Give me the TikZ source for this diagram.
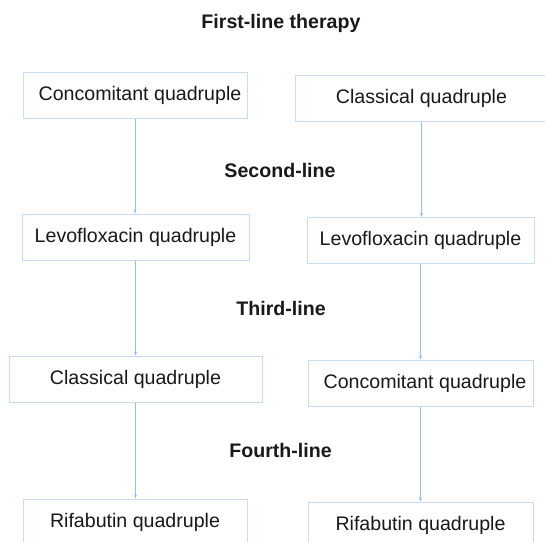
\documentclass[tikz,border=0pt]{standalone}
\usepackage{fontspec}
\setmainfont{Liberation Sans}
\usetikzlibrary{arrows.meta}
\definecolor{boxc}{RGB}{200,220,242}
\definecolor{linec}{RGB}{150,190,232}
\definecolor{txt}{RGB}{25,25,25}
\tikzset{
  box/.style={draw=boxc, line width=1pt, minimum height=46pt, inner sep=0pt,
    font=\fontsize{19.6}{23}\selectfont, text=txt},
  lbl/.style={font=\fontsize{19.6}{23}\selectfont\bfseries, text=txt, inner sep=0pt},
  conn/.style={draw=linec, line width=0.9pt, -{Stealth[length=4pt,width=3pt]}}
}
\begin{document}
\begin{tikzpicture}[x=1pt,y=-1pt]
\useasboundingbox (0,0) rectangle (545,541);
\clip (0,0) rectangle (545,541);
\fill[white] (0,0) rectangle (545,541);
\node[lbl] (t1) at (281,23) {First-line therapy};
\node[lbl] (t2) at (280,170.5) {Second-line};
\node[lbl] (t3) at (281,308) {Third-line};
\node[lbl] (t4) at (280.5,450) {Fourth-line};
\node[box, minimum width=224pt] (b1) at (135,95) {\hspace*{10pt}Concomitant quadruple};
\node[box, minimum width=253pt] (b2) at (421.5,98.5) {Classical quadruple};
\node[box, minimum width=227pt] (b3) at (135.5,237) {Levofloxacin quadruple};
\node[box, minimum width=227pt] (b4) at (420.5,240.5) {Levofloxacin quadruple};
\node[box, minimum width=253pt] (b5) at (135.5,379) {Classical quadruple};
\node[box, minimum width=225pt] (b6) at (420.5,383) {\hspace*{9pt}Concomitant quadruple};
\node[box, minimum width=224pt] (b7) at (135,522) {Rifabutin quadruple};
\node[box, minimum width=225pt] (b8) at (420.5,525) {Rifabutin quadruple};
\draw[conn] (b1.south) -- (b1.south |- b3.north);
\draw[conn] (b3.south) -- (b3.south |- b5.north);
\draw[conn] (b5.south) -- (b5.south |- b7.north);
\draw[conn] (b2.south) -- (b2.south |- b4.north);
\draw[conn] (b4.south) -- (b4.south |- b6.north);
\draw[conn] (b6.south) -- (b6.south |- b8.north);
\end{tikzpicture}
\end{document}
